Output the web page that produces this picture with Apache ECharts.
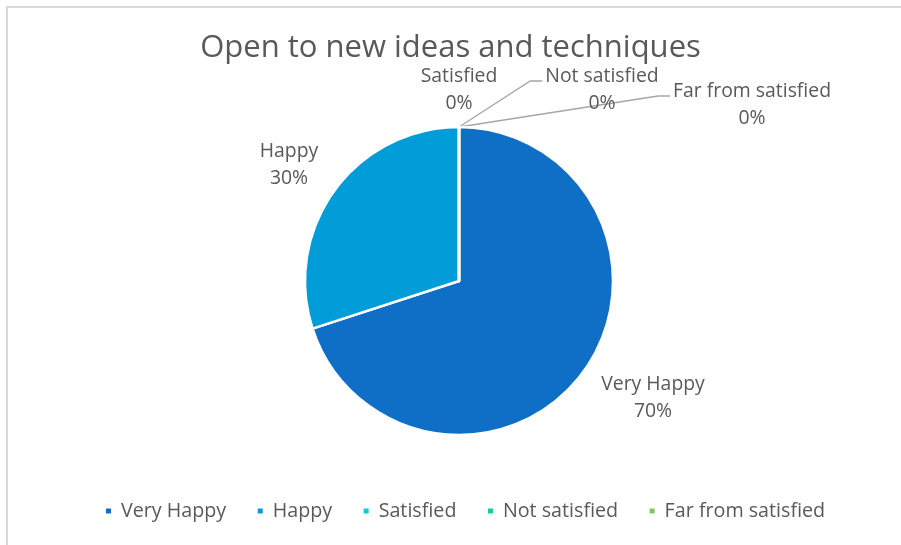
<!DOCTYPE html>
<html>
<head>
<meta charset="utf-8">
<script src="https://cdn.jsdelivr.net/npm/echarts@6/dist/echarts.min.js"></script>
<style>
html,body{margin:0;padding:0;background:#fff;}
#chart{width:901px;height:545px;}
</style>
</head>
<body>
<div id="chart"></div>
<script>
var titleText = 'Open to new ideas and techniques';
var categories = ['Very Happy', 'Happy', 'Satisfied', 'Not satisfied', 'Far from satisfied'];
var values = [70, 30, 0, 0, 0];
var colors = ['#0F6FC6', '#009DD9', '#0BD0D9', '#10CF9B', '#7CCA62'];

// label anchor positions (centre of two-line label), per category index
var labelPos = [[653, 398], [289, 165], [459, 90], [602, 90], [752, 105]];

var chart = echarts.init(document.getElementById('chart'));
var FONT = 'Open Sans';
var option = {
  backgroundColor: '#ffffff',
  color: colors,
  title: {
    text: titleText,
    left: 'center',
    top: 28,
    textStyle: {fontFamily: FONT, fontSize: 31, fontWeight: 'normal', color: '#595959'}
  },
  legend: {
    bottom: 19,
    left: 99,
    itemWidth: 7,
    itemHeight: 7,
    itemGap: 29.5,
    icon: 'rect',
    textStyle: {fontFamily: FONT, fontSize: 19.7, color: '#595959', padding: [0, 0, 0, 4]},
    data: categories
  },
  graphic: [{
    type: 'rect',
    shape: {x: 7, y: 7, width: 1200, height: 1200},
    style: {fill: 'none', stroke: '#d9d9d9', lineWidth: 2},
    silent: true
  }],
  series: [{
    type: 'pie',
    center: [459, 281],
    radius: 154,
    startAngle: 90,
    clockwise: true,
    avoidLabelOverlap: false,
    stillShowZeroSum: true,
    itemStyle: {borderColor: '#ffffff', borderWidth: 2.5},
    label: {
      show: true,
      position: 'outside',
      fontFamily: FONT,
      fontSize: 19.4,
      lineHeight: 27,
      color: '#595959',
      align: 'center',
      formatter: function (p) { return p.name + '\n' + Math.round(p.percent) + '%'; }
    },
    labelLine: {show: true, lineStyle: {color: '#a6a6a6', width: 1.3}, length: 10, length2: 10},
    labelLayout: function (params) {
      var i = params.dataIndex;
      var pos = labelPos[i];
      var res = {x: pos[0], y: pos[1], align: 'center', verticalAlign: 'middle'};
      if (i >= 3 && params.labelLinePoints) {
        var start = params.labelLinePoints[0];
        var w = params.labelRect.width;
        var endX = pos[0] - w / 2 - 3;
        var endY = pos[1] - 9;
        res.labelLinePoints = [start, [endX - 12, endY], [endX, endY]];
      }
      return res;
    },
    data: categories.map(function (n, i) {
      return {name: n, value: values[i], labelLine: {show: i >= 3}};
    })
  }]
};
chart.setOption(option);
</script>
</body>
</html>
